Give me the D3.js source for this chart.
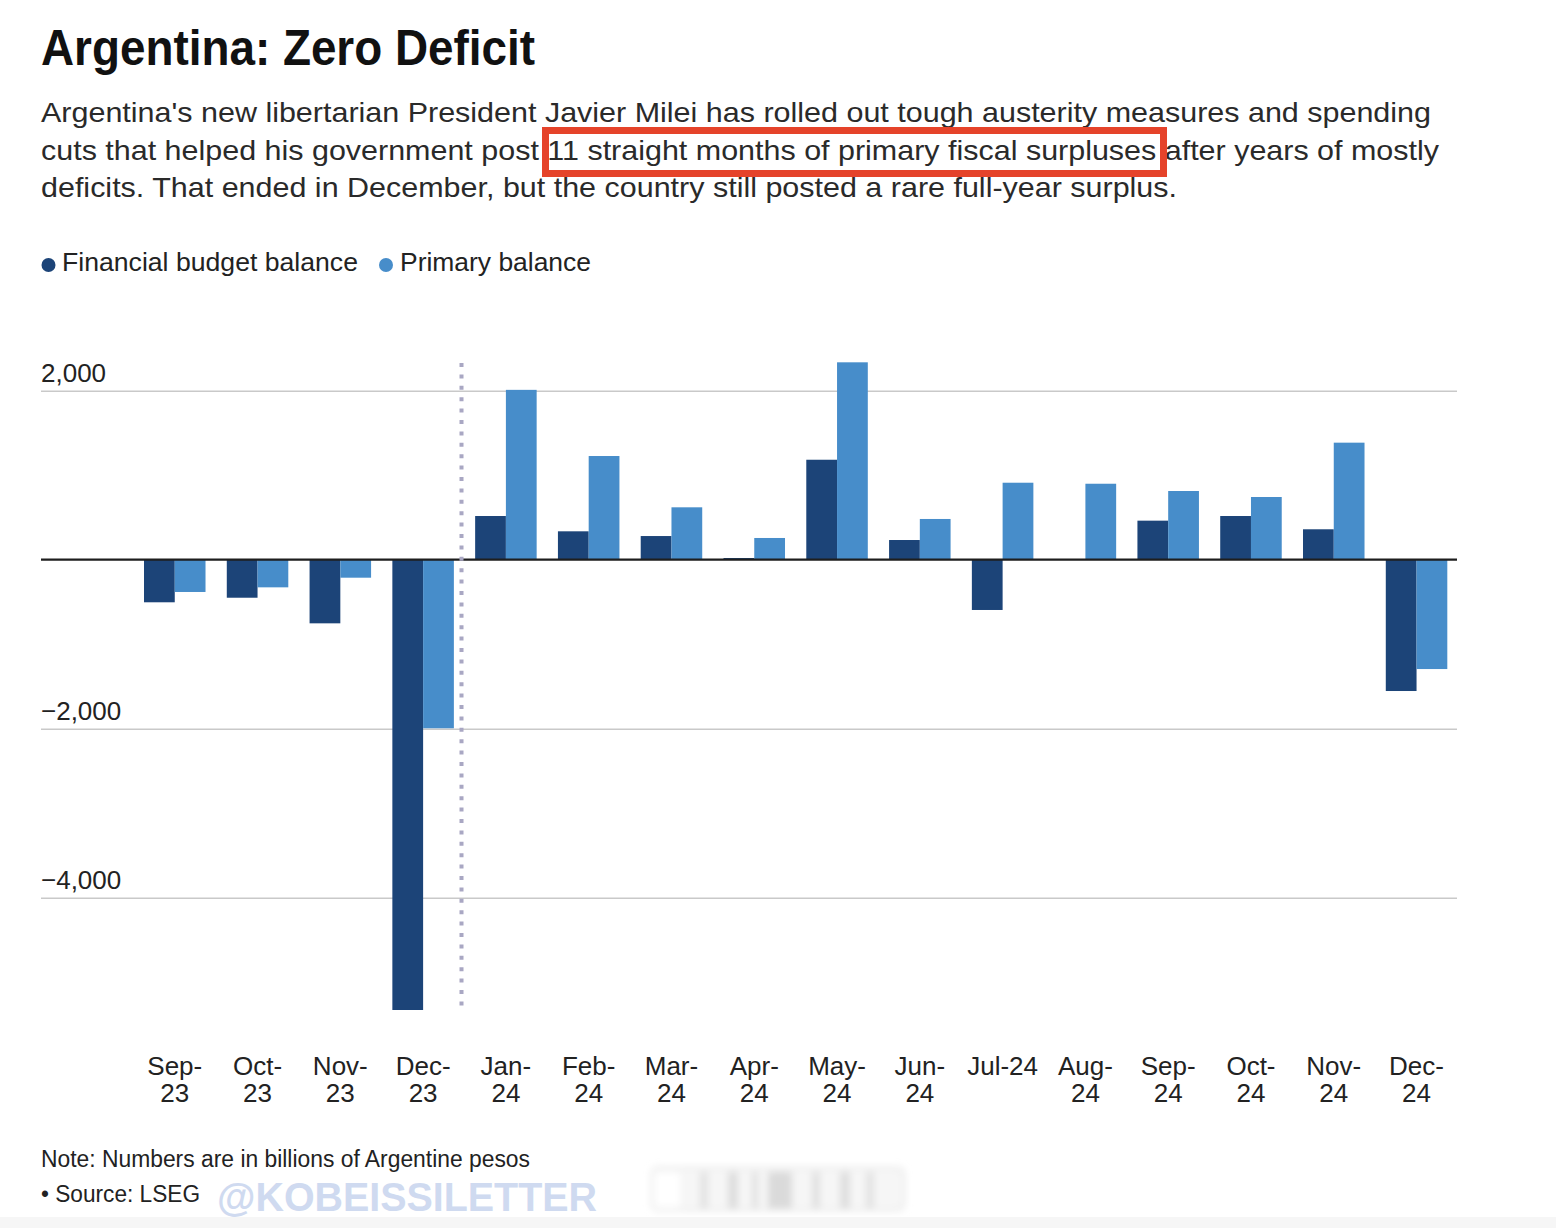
<!DOCTYPE html>
<html>
<head>
<meta charset="utf-8">
<script src="https://cdn.jsdelivr.net/npm/d3@7"></script>
<style>
  html, body { margin: 0; padding: 0; background: #ffffff; }
  svg { display: block; font-family: "Liberation Sans", Arial, Helvetica, sans-serif; }
</style>
</head>
<body>
<div id="chart"></div>
<script>
// ---- data ----
const monthsTop = ["Sep-", "Oct-", "Nov-", "Dec-", "Jan-", "Feb-", "Mar-", "Apr-", "May-", "Jun-", "Jul-24", "Aug-", "Sep-", "Oct-", "Nov-", "Dec-"];
const monthsBottom = ["23", "23", "23", "23", "24", "24", "24", "24", "24", "24", "", "24", "24", "24", "24", "24"];
const months = ["Sep-23", "Oct-23", "Nov-23", "Dec-23", "Jan-24", "Feb-24", "Mar-24", "Apr-24", "May-24", "Jun-24", "Jul-24", "Aug-24", "Sep-24", "Oct-24", "Nov-24", "Dec-24"];
const financialBalance = [-504, -450, -753, -5329, 517, 336, 280, 20, 1183, 233, -595, 0, 462, 517, 360, -1554];
const primaryBalance = [-382, -327, -213, -1995, 2010, 1227, 620, 257, 2336, 482, 911, 899, 813, 742, 1385, -1294];
const seriesKeys = ["Financial budget balance", "Primary balance"];
const yTicks = [2000, -2000, -4000];

const title = "Argentina: Zero Deficit";
const subtitleLines = [
  "Argentina's new libertarian President Javier Milei has rolled out tough austerity measures and spending",
  "cuts that helped his government post 11 straight months of primary fiscal surpluses after years of mostly",
  "deficits. That ended in December, but the country still posted a rare full-year surplus."
];
const noteText = "Note: Numbers are in billions of Argentine pesos";
const sourceText = "\u2022 Source: LSEG";
const watermark = "@KOBEISSILETTER";

// ---- setup ----
const W = 1556, H = 1228;
const colors = { "Financial budget balance": "#1c4478", "Primary balance": "#478dca" };
const textColor = "#222222";

const svg = d3.select("#chart").append("svg")
  .attr("width", W).attr("height", H).attr("viewBox", `0 0 ${W} ${H}`);

svg.append("rect").attr("width", W).attr("height", H).attr("fill", "#ffffff");

const defs = svg.append("defs");
defs.append("filter").attr("id", "blur").attr("x", "-20%").attr("y", "-50%").attr("width", "140%").attr("height", "200%")
  .append("feGaussianBlur").attr("stdDeviation", 3.5);

// ---- title & subtitle ----
svg.append("text")
  .attr("x", 41).attr("y", 65)
  .attr("font-size", 50).attr("font-weight", "bold").attr("fill", "#111")
  .attr("textLength", 494).attr("lengthAdjust", "spacingAndGlyphs")
  .text(title);

const subEnds = [1431, 1439, 1177];
const subBase = [122, 160, 197];
subtitleLines.forEach((line, i) => {
  svg.append("text")
    .attr("x", 41).attr("y", subBase[i])
    .attr("font-size", 28).attr("fill", "#2a2a2a")
    .attr("textLength", subEnds[i] - 41).attr("lengthAdjust", "spacingAndGlyphs")
    .text(line);
});

// red highlight box (drawn over the text)
svg.append("rect")
  .attr("x", 545.5).attr("y", 130.5).attr("width", 618).attr("height", 43)
  .attr("fill", "none").attr("stroke", "#e5432a").attr("stroke-width", 7);

// ---- legend ----
const legend = svg.append("g");
const legendItems = [
  { key: seriesKeys[0], cx: 48.5, tx: 62, w: 296 },
  { key: seriesKeys[1], cx: 386, tx: 400, w: 191 }
];
legendItems.forEach(it => {
  legend.append("circle").attr("cx", it.cx).attr("cy", 265).attr("r", 7).attr("fill", colors[it.key]);
  legend.append("text").attr("x", it.tx).attr("y", 271).attr("font-size", 26).attr("fill", textColor)
    .attr("textLength", it.w).attr("lengthAdjust", "spacingAndGlyphs")
    .text(it.key);
});

// ---- scales ----
const plotLeft = 41, plotRight = 1457;
const x = d3.scaleBand().domain(months).range([144, 1447.3]).paddingInner(0.257).paddingOuter(0);
const xs = d3.scaleBand().domain(seriesKeys).range([0, x.bandwidth()]);
const y = d3.scaleLinear().domain([-4000, 2000]).range([897.7, 390.7]);

// ---- gridlines via axis ----
const yAxis = d3.axisLeft(y)
  .tickValues(yTicks)
  .tickSize(-(plotRight - plotLeft))
  .tickFormat(d => d3.format(",")(d).replace("-", "\u2212"));

const gy = svg.append("g").attr("transform", `translate(${plotLeft},0)`).call(yAxis);
gy.select(".domain").remove();
gy.selectAll(".tick line").attr("stroke", "#c9c9c9").attr("stroke-width", 1.6);
gy.selectAll(".tick text")
  .attr("x", 0).attr("dy", null).attr("y", -9)
  .attr("text-anchor", "start")
  .attr("font-size", 26).attr("fill", textColor)
  .attr("font-family", "'Liberation Sans', Arial, Helvetica, sans-serif");

// ---- bars ----
const rows = months.map((m, i) => ({ m, values: [
  { key: seriesKeys[0], v: financialBalance[i] },
  { key: seriesKeys[1], v: primaryBalance[i] }
]}));

const groups = svg.append("g").selectAll("g").data(rows).join("g")
  .attr("transform", d => `translate(${x(d.m)},0)`);

groups.selectAll("rect").data(d => d.values).join("rect")
  .attr("x", d => xs(d.key))
  .attr("width", xs.bandwidth())
  .attr("y", d => y(Math.max(0, d.v)))
  .attr("height", d => Math.abs(y(d.v) - y(0)))
  .attr("fill", d => colors[d.key]);

// zero line
svg.append("line")
  .attr("x1", plotLeft).attr("x2", plotRight)
  .attr("y1", y(0)).attr("y2", y(0))
  .attr("stroke", "#1e1e1e").attr("stroke-width", 2.2);

// dotted divider between Dec-23 and Jan-24
const divX = (x("Dec-23") + x.bandwidth() + x("Jan-24")) / 2 - 3;
svg.append("line")
  .attr("x1", divX).attr("x2", divX)
  .attr("y1", 363).attr("y2", 1008)
  .attr("stroke", "#a9a7c3").attr("stroke-width", 4)
  .attr("stroke-dasharray", "4 7.4");

// ---- x axis labels ----
const xAxis = d3.axisBottom(x).tickSize(0).tickFormat("");
const gx = svg.append("g").attr("transform", "translate(0,0)").call(xAxis);
gx.select(".domain").remove();
gx.selectAll(".tick").each(function(d, i) {
  const t = d3.select(this).select("text");
  t.attr("y", null).attr("dy", null).attr("text-anchor", "middle")
   .attr("font-size", 26).attr("fill", textColor)
   .attr("font-family", "'Liberation Sans', Arial, Helvetica, sans-serif");
  t.append("tspan").attr("x", 0).attr("y", 1075).text(monthsTop[i]);
  if (monthsBottom[i]) t.append("tspan").attr("x", 0).attr("y", 1102).text(monthsBottom[i]);
});

// ---- footer ----
svg.append("text").attr("x", 41).attr("y", 1167).attr("font-size", 23).attr("fill", "#222")
  .attr("textLength", 489).attr("lengthAdjust", "spacingAndGlyphs").text(noteText);
svg.append("text").attr("x", 41).attr("y", 1202).attr("font-size", 23).attr("fill", "#222")
  .attr("textLength", 159).attr("lengthAdjust", "spacingAndGlyphs").text(sourceText);

svg.append("text").attr("x", 217).attr("y", 1211).attr("font-size", 40).attr("font-weight", "bold")
  .attr("fill", "#cfdaf0")
  .attr("textLength", 380).attr("lengthAdjust", "spacingAndGlyphs").text(watermark);

// blurred UI element
const blurG = svg.append("g").attr("filter", "url(#blur)");
blurG.append("rect").attr("x", 652).attr("y", 1168).attr("width", 252).attr("height", 42).attr("rx", 6)
  .attr("fill", "#f6f6f6").attr("stroke", "#e4e4e4").attr("stroke-width", 2);
[[654, 26, "#ffffff"], [700, 8, "#e2e2e2"], [728, 10, "#dddddd"], [752, 6, "#e0e0e0"], [768, 24, "#dadada"], [812, 8, "#e0e0e0"], [840, 10, "#dedede"], [866, 8, "#e2e2e2"]]
  .forEach(([bx, bw, c]) => blurG.append("rect").attr("x", bx).attr("y", 1172).attr("width", bw).attr("height", 36).attr("fill", c));

// bottom strip
svg.append("rect").attr("x", 0).attr("y", 1217).attr("width", W).attr("height", H - 1217).attr("fill", "#f6f6f6");
</script>
</body>
</html>
